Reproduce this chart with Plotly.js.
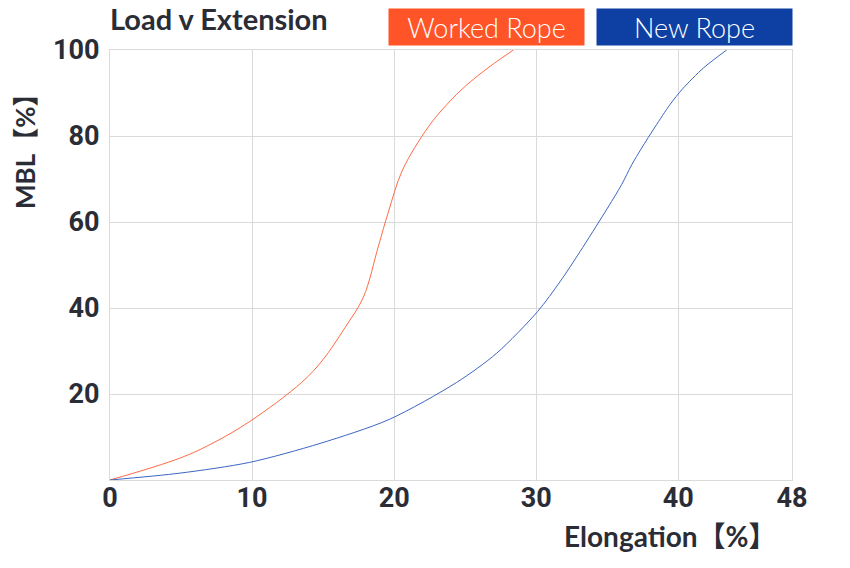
<!DOCTYPE html>
<html>
<head>
<meta charset="utf-8">
<script src="https://cdn.plot.ly/plotly-3.0.1.min.js"></script>
<style>
  html, body { margin: 0; padding: 0; background: #ffffff; }
  #chart { width: 850px; height: 568px; }
</style>
</head>
<body>
<div id="chart"></div>
<script>
// Elongation (%) vs load (% of MBL)
const workedX = [0, 4.93, 7.25, 9.83, 13.49, 14.97, 16.55, 17.83, 18.90, 19.59, 20.59, 22.40, 23.70, 25.11, 26.75, 28.39];
const workedY = [0, 5.1, 8.6, 13.6, 22.7, 27.9, 35.5, 42.5, 54.5, 62.3, 72.1, 82.1, 87.3, 91.9, 96.2, 100];

const newX = [0, 4.93, 9.83, 14.78, 19.66, 24.40, 27.22, 30.10, 31.67, 33.08, 34.84, 36.01, 36.72, 37.42, 38.36, 39.41, 40.31, 41.76, 43.40];
const newY = [0, 1.6, 4.1, 8.5, 14.1, 22.7, 29.5, 39.2, 46.1, 53.1, 62.3, 68.7, 73.3, 77.2, 82.1, 87.3, 91.0, 95.8, 100];

const seriesNames = ['Worked Rope', 'New Rope'];
const xTickVals = [0, 10, 20, 30, 40, 48];
const xTickText = ['0', '10', '20', '30', '40', '48'];
const yTickVals = [20, 40, 60, 80, 100];
const yTickText = ['20', '40', '60', '80', '100'];

const ORANGE = '#FF5427';
const BLUE = '#0E40A4';
const TEXT = '#2b2d36';
const GRID = '#dadada';
const FONT = "Lato, 'Noto Sans CJK JP', sans-serif";
const NUMFONT = "Roboto, 'Noto Sans', sans-serif";

const traces = [
  { x: workedX, y: workedY, name: seriesNames[0], type: 'scatter', mode: 'lines',
    line: { color: '#FF6A45', width: 1, shape: 'spline', smoothing: 1 }, hoverinfo: 'skip' },
  { x: newX, y: newY, name: seriesNames[1], type: 'scatter', mode: 'lines',
    line: { color: '#3D66C2', width: 1, shape: 'spline', smoothing: 0.8 }, hoverinfo: 'skip' }
];

const layout = {
  width: 850, height: 568,
  margin: { l: 110, r: 58, t: 50, b: 88 },
  paper_bgcolor: '#ffffff', plot_bgcolor: '#ffffff',
  showlegend: false,
  title: {
    text: 'Load v Extension',
    font: { family: FONT, size: 29, color: TEXT, weight: 700 },
    xref: 'paper', x: 0, xanchor: 'left',
    yref: 'container', y: 1 - 20 / 568, yanchor: 'middle'
  },
  xaxis: {
    range: [0, 48], tickvals: xTickVals, ticktext: xTickText,
    showgrid: true, gridcolor: GRID, gridwidth: 1, zeroline: false,
    showline: true, linecolor: GRID, linewidth: 1, mirror: true,
    ticks: '', ticklabelstandoff: -6,
    tickfont: { family: NUMFONT, size: 27, color: TEXT, weight: 700 },
    fixedrange: true
  },
  yaxis: {
    range: [0, 100], tickvals: yTickVals, ticktext: yTickText,
    showgrid: true, gridcolor: GRID, gridwidth: 1, zeroline: false,
    showline: true, linecolor: GRID, linewidth: 1, mirror: true,
    ticks: '', ticklabelstandoff: 4,
    tickfont: { family: NUMFONT, size: 27, color: TEXT, weight: 700 },
    fixedrange: true
  },
  annotations: [
    { text: seriesNames[0], xref: 'paper', yref: 'paper',
      x: (486.5 - 110) / 682, y: (480 - 27) / 430, xanchor: 'center', yanchor: 'middle',
      showarrow: false, bgcolor: ORANGE, width: 195, height: 36, borderpad: 0, valign: 'middle',
      font: { family: FONT, size: 27, color: '#ffffff', weight: 300 } },
    { text: seriesNames[1], xref: 'paper', yref: 'paper',
      x: (694.5 - 110) / 682, y: (480 - 27) / 430, xanchor: 'center', yanchor: 'middle',
      showarrow: false, bgcolor: BLUE, width: 195, height: 36, borderpad: 0, valign: 'middle',
      font: { family: FONT, size: 27, color: '#ffffff', weight: 300 } },
    { text: 'Elongation【%】', xref: 'paper', yref: 'paper',
      x: (670 - 110) / 682, y: (480 - 536) / 430, xanchor: 'center', yanchor: 'middle',
      showarrow: false, font: { family: FONT, size: 28, color: TEXT, weight: 700 } },
    { text: 'MBL【%】', xref: 'paper', yref: 'paper', textangle: -90,
      x: (25 - 110) / 682, y: (480 - 145) / 430, xanchor: 'center', yanchor: 'middle',
      showarrow: false, font: { family: FONT, size: 26, color: TEXT, weight: 700 } }
  ]
};

Plotly.newPlot('chart', traces, layout, { staticPlot: true, displayModeBar: false });
</script>
</body>
</html>
